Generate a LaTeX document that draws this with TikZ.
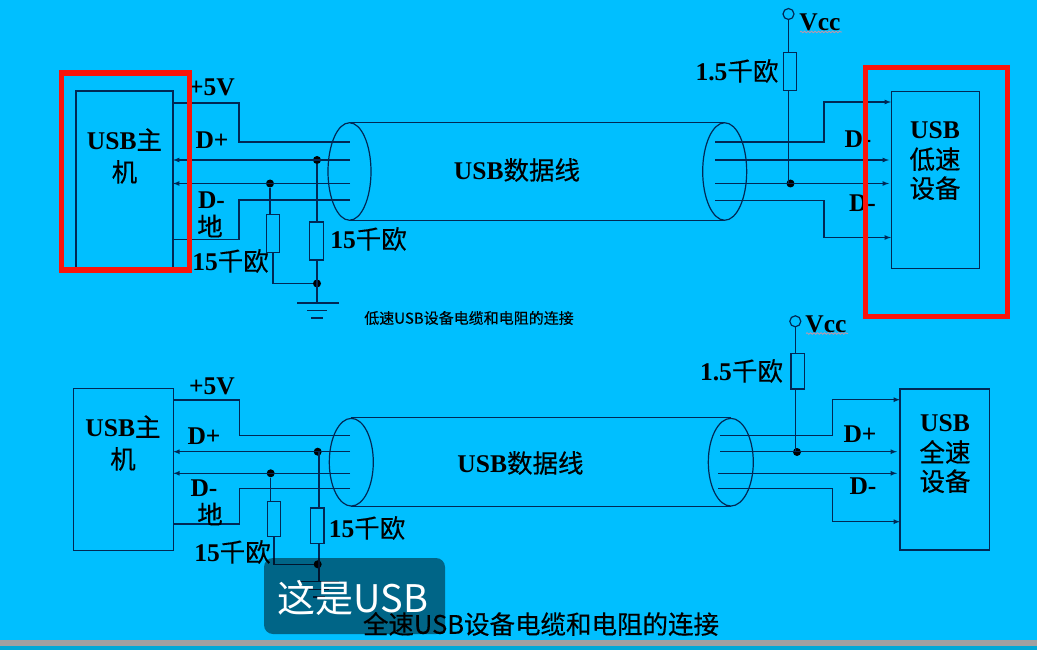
\documentclass[tikz,border=0pt]{standalone}
\usepackage{fontspec}
\setmainfont{Liberation Serif}
\newfontfamily\cjk{Noto Sans CJK SC}
\newfontfamily\cjkb[FakeBold=0.4]{Noto Sans CJK SC}
\usetikzlibrary{shapes.geometric,decorations.pathmorphing}
\newcommand{\zh}[1]{{\cjkb\mdseries #1}}
\begin{document}
\begin{tikzpicture}[x=1pt,y=-1pt]
            \definecolor{bg_color}{RGB}{0,191,255}
            \definecolor{line_color}{RGB}{0,40,85}
            \definecolor{mark_color}{RGB}{250,20,10}
            \definecolor{bar_color}{RGB}{160,160,160}
            \definecolor{strip_color}{RGB}{0,168,214}
            \definecolor{wave_color}{RGB}{190,150,170}
            \tikzstyle{wire} = [line width=1.2pt, line_color]
            \tikzstyle{box} = [draw=line_color, line width=1.2pt, shape=rectangle, inner sep=0pt]
            \tikzstyle{res} = [box, minimum width=13.3pt, minimum height=38pt]
            \tikzstyle{dotn} = [fill=black, shape=circle, inner sep=0pt, minimum size=8pt]
            \tikzstyle{ring} = [draw=line_color, line width=1.2pt, shape=circle, inner sep=0pt, minimum size=11pt]
            \tikzstyle{cable} = [draw=line_color, line width=1.2pt, shape=ellipse, inner sep=0pt]
            \tikzstyle{ann} = [text=black, inner sep=0pt, align=center, font=\fontsize{25.5}{29}\selectfont\bfseries]
            \tikzstyle{redbox} = [draw=mark_color, line width=5.5pt, shape=rectangle, inner sep=0pt]
            \useasboundingbox (0,0) rectangle (1037,650);
            \fill[bg_color] (0,0) rectangle (1037,650);
            \fill[bar_color] (0,640) rectangle (1037,646);
            \fill[strip_color] (0,646) rectangle (1037,650);
            % low speed
            \node[box, minimum width=97pt, minimum height=177pt] (ahost) at (124.5,179.5) {};
            \node[box, minimum width=88pt, minimum height=177pt] (adev) at (935.5,180) {};
            \node[cable, minimum width=43pt, minimum height=97.5pt] (acl) at (349.5,171.5) {};
            \node[cable, minimum width=44pt, minimum height=97.5pt] (acr) at (724.7,171.5) {};
            \draw[wire] (acl.north) -- (acr.north);
            \draw[wire] (acl.south) -- (acr.south);
            \node[res] (ar1) at (273,233.5) {};
            \node[res] (ar2) at (316.5,241) {};
            \node[res] (ar3) at (790,71.5) {};
            \node[ring] (avcc) at (788.5,14) {};
            \node[dotn] (adp) at (317,160) {};
            \node[dotn] (adg) at (270,183.5) {};
            \node[dotn] (adl) at (317,283.5) {};
            \node[dotn] (adr) at (790.5,183.5) {};
            \coordinate (agnd) at (317,303);
            \coordinate (al1) at (350,142);
            \coordinate (al2) at (350,160);
            \coordinate (al3) at (350,183.5);
            \coordinate (al4) at (350,200);
            \coordinate (ar5) at (715,142);
            \coordinate (ar6) at (715,160);
            \coordinate (ar7) at (715,183.5);
            \coordinate (ar8) at (715,200.5);
            \coordinate (ah1) at (173,103);
            \coordinate (ah2) at (173,160);
            \coordinate (ah3) at (173,183.5);
            \coordinate (ah4) at (173,239.5);
            \coordinate (ad1) at (891,102);
            \coordinate (ad2) at (889,160);
            \coordinate (ad3) at (889,183.5);
            \coordinate (ad4) at (891,237.5);
            \draw[wire] (ah1) -- (239,103) -- (239,142) -- (al1);
            \draw[wire,-latex] (al2) -- (ah2);
            \draw[wire,-latex] (al3) -- (ah3);
            \draw[wire] (al4) -- (239,200) -- (239,239.5) -- (ah4);
            \draw[wire] (adg) -- (adg |- ar1.north);
            \draw[wire] (ar1.south) -- (273,283.5) -- (adl);
            \draw[wire] (adp) -- (adp |- ar2.north);
            \draw[wire] (adp |- ar2.south) -- (agnd);
            \draw[wire] (297,303) -- (339,303);
            \draw[wire] (307,310.5) -- (327,310.5);
            \draw[wire] (311,318) -- (323,318);
            \draw[wire,-latex] (ar5) -- (824,142) -- (824,102) -- (ad1);
            \draw[wire,-latex] (ar6) -- (ad2);
            \draw[wire,-latex] (ar7) -- (ad3);
            \draw[wire,-latex] (ar8) -- (824,200.5) -- (824,237.5) -- (ad4);
            \draw[wire] (avcc) -- (avcc |- ar3.north);
            \draw[wire] (avcc |- ar3.south) -- (avcc |- adr);
            \node[ann] (at5v) at (212,87) {+5V};
            \node[ann] (atdp) at (212,140) {D+};
            \node[ann] (atdm) at (211.5,200) {D-};
            \node[ann] (atgn) at (210,226) {\zh{地}};
            \node[ann] (atr1) at (230.5,261) {15\zh{千欧}};
            \node[ann] (atr2) at (368.5,239) {15\zh{千欧}};
            \node[ann] (athost) at (124.5,156) {USB\zh{主}\\[3pt]\zh{机}};
            \node[ann] (atcable) at (517,170) {USB\zh{数据线}};
            \node[ann] (atr3) at (737,71) {1.5\zh{千欧}};
            \node[ann] (atvcc) at (820,22) {Vcc};
            \draw[wave_color, line width=0.8pt, decorate, decoration={snake,amplitude=0.8pt,segment length=3.5pt}] (800,32) -- (842,32);
            \node[ann] (atdev1) at (858,139) {D-};
            \node[ann] (atdev2) at (862.5,203) {D-};
            \node[ann] (atdev) at (935,161) {USB\\[1pt]\zh{低速}\\\zh{设备}};
            \node[text=black, inner sep=0pt, font=\fontsize{15}{18}\selectfont\cjkb] (atcap) at (469,318) {低速USB设备电缆和电阻的连接};
            \node[redbox, minimum width=128pt, minimum height=196.5pt] (amark1) at (125.5,171.5) {};
            \node[redbox, minimum width=142pt, minimum height=249pt] (amark2) at (936.5,192) {};
            % full speed
            \node[box, minimum width=100pt, minimum height=161.5pt] (bhost) at (123.3,469.5) {};
            \node[box, minimum width=89.3pt, minimum height=161pt] (bdev) at (944.7,469.5) {};
            \node[cable, minimum width=44pt, minimum height=87.7pt] (bcl) at (351.3,462.2) {};
            \node[cable, minimum width=45pt, minimum height=87.7pt] (bcr) at (730.8,462.2) {};
            \draw[wire] (bcl.north) -- (bcr.north);
            \draw[wire] (bcl.south) -- (bcr.south);
            \node[res, minimum height=34.6pt] (br1) at (274,519) {};
            \node[res, minimum height=35.7pt] (br2) at (317.3,525.8) {};
            \node[res, minimum height=35.7pt] (br3) at (797.6,371.2) {};
            \node[ring] (bvcc) at (795.3,321.3) {};
            \node[dotn] (bdp) at (317.7,451.7) {};
            \node[dotn] (bdg) at (270.7,473.3) {};
            \node[dotn] (bdl) at (317.7,564.3) {};
            \node[dotn] (bdr) at (797,452) {};
            \coordinate (bgnd) at (319,581.7);
            \coordinate (bl1) at (350,435.3);
            \coordinate (bl2) at (350,451.7);
            \coordinate (bl3) at (350,473.3);
            \coordinate (bl4) at (350,488.3);
            \coordinate (br5) at (720,435.3);
            \coordinate (br6) at (720,451.7);
            \coordinate (br7) at (718,473.3);
            \coordinate (br8) at (718,488.3);
            \coordinate (bh1) at (173.3,400);
            \coordinate (bh2) at (173.3,451.7);
            \coordinate (bh3) at (173.3,473.3);
            \coordinate (bh4) at (173.3,524);
            \coordinate (bd1) at (900,399.7);
            \coordinate (bd2) at (897,451.7);
            \coordinate (bd3) at (897,473.3);
            \coordinate (bd4) at (900,521.7);
            \draw[wire] (bh1) -- (239.3,400) -- (239.3,435.3) -- (bl1);
            \draw[wire,-latex] (bl2) -- (bh2);
            \draw[wire,-latex] (bl3) -- (bh3);
            \draw[wire] (bl4) -- (239.3,488.3) -- (239.3,524) -- (bh4);
            \draw[wire] (bdg) -- (bdg |- br1.north);
            \draw[wire] (br1.south) -- (274,564.3) -- (bdl);
            \draw[wire] (bgnd |- bdp) -- (bgnd |- br2.north);
            \draw[wire] (bgnd |- br2.south) -- (bgnd);
            \draw[wire] (299,581.7) -- (339,581.7);
            \draw[wire] (309,589.5) -- (329,589.5);
            \draw[wire] (313,597) -- (325,597);
            \draw[wire,-latex] (br5) -- (832.3,435.3) -- (832.3,399.7) -- (bd1);
            \draw[wire,-latex] (br6) -- (bd2);
            \draw[wire,-latex] (br7) -- (bd3);
            \draw[wire,-latex] (br8) -- (832.3,488.3) -- (832.3,521.7) -- (bd4);
            \draw[wire] (bvcc) -- (bvcc |- br3.north);
            \draw[wire] (bvcc |- br3.south) -- (bvcc |- bdr);
            \node[ann] (bt5v) at (212,386) {+5V};
            \node[ann] (btdp) at (204,436) {D+};
            \node[ann] (btdm) at (204,488) {D-};
            \node[ann] (btgn) at (210,514) {\zh{地}};
            \node[ann] (btr1) at (232.5,552) {15\zh{千欧}};
            \node[ann] (btr2) at (367,528) {15\zh{千欧}};
            \node[ann] (bthost) at (123,443) {USB\zh{主}\\[3pt]\zh{机}};
            \node[ann] (btcable) at (520.5,463) {USB\zh{数据线}};
            \node[ann] (btr3) at (741.5,371) {1.5\zh{千欧}};
            \node[ann] (btvcc) at (826,324) {Vcc};
            \draw[wave_color, line width=0.8pt, decorate, decoration={snake,amplitude=0.8pt,segment length=3.5pt}] (806,333.5) -- (848,333.5);
            \node[ann] (btdev1) at (860,434) {D+};
            \node[ann] (btdev2) at (863,486) {D-};
            \node[ann] (btdev) at (945,454) {USB\\[1pt]\zh{全速}\\\zh{设备}};
            \node[text=black, inner sep=0pt, font=\fontsize{25.5}{29}\selectfont\cjkb] (btcap) at (541,624) {全速USB设备电缆和电阻的连接};
            % caption overlay
            \node[fill=black, fill opacity=0.47, rounded corners=9pt, minimum width=181pt, minimum height=76pt, inner sep=0pt] (sub) at (354.5,596) {};
            \node[text=white, inner sep=0pt, font=\fontsize{38}{42}\selectfont\cjk] (subt) at (353,598) {这是USB};
\end{tikzpicture}
\end{document}
